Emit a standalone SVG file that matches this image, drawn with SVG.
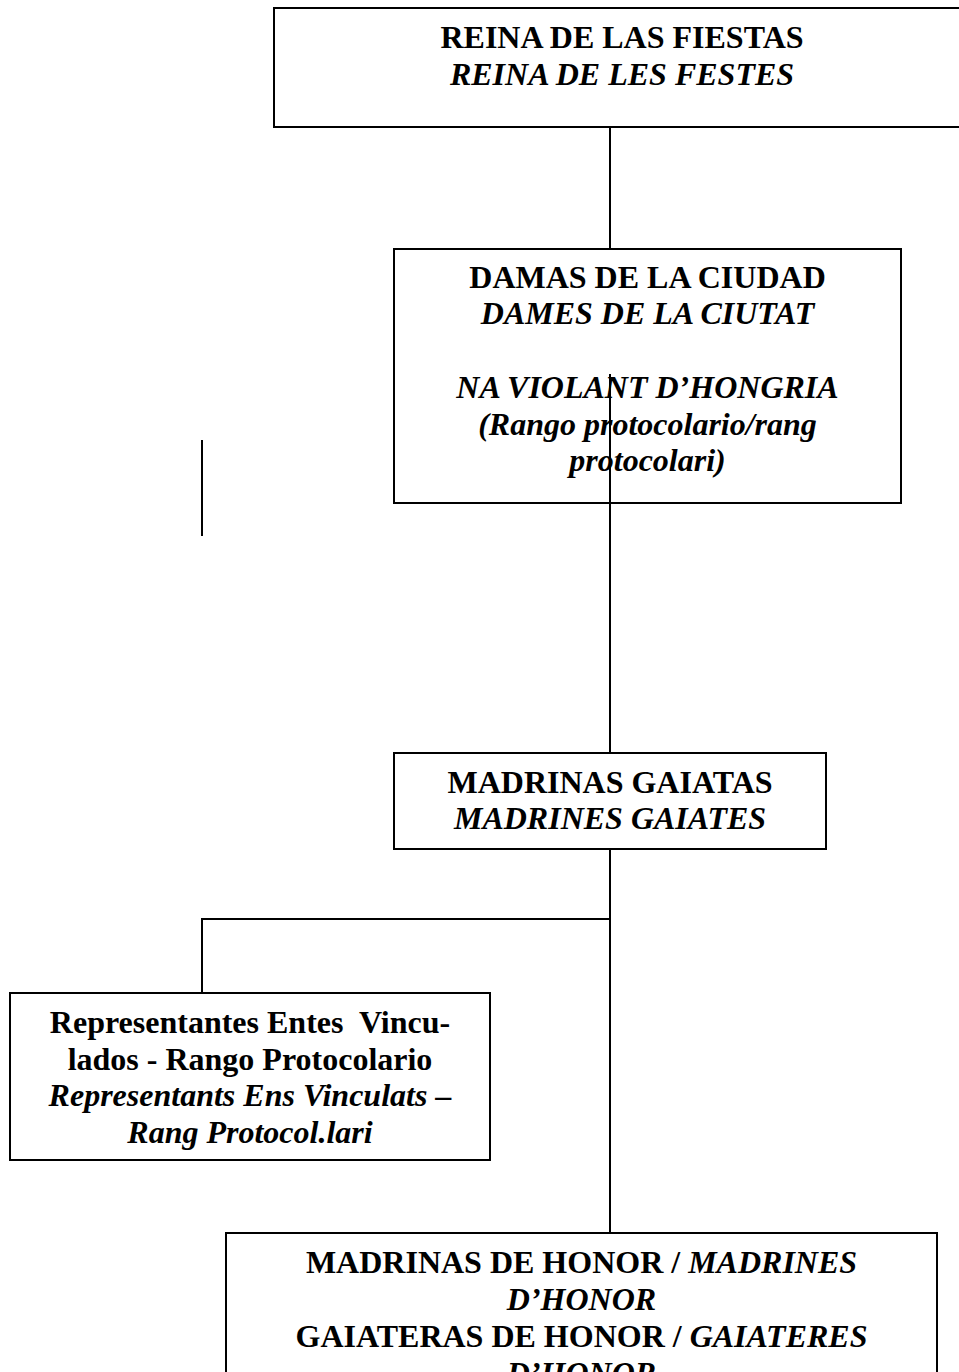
<svg xmlns="http://www.w3.org/2000/svg" width="959" height="1372" viewBox="0 0 959 1372">
<style>
.box{fill:#fff;stroke:#000;stroke-width:2}
.ln{stroke:#000;stroke-width:2;fill:none}
text{font-family:"Liberation Serif","Times New Roman",serif;font-size:32px;font-weight:bold;fill:#000;text-anchor:middle}
.i{font-style:italic}
</style>
<rect width="959" height="1372" fill="#fff"/>
<g id="n-reina">
<rect class="box" x="274" y="8" width="700" height="119"/>
<text x="622" y="48">REINA DE LAS FIESTAS</text>
<text x="622" y="85" class="i">REINA DE LES FESTES</text>
</g>
<g id="n-damas">
<rect class="box" x="394" y="249" width="507" height="254"/>
<text x="647.5" y="288">DAMAS DE LA CIUDAD</text>
<text x="647.5" y="324" class="i">DAMES DE LA CIUTAT</text>
<text x="647.5" y="398" class="i">NA VIOLANT D’HONGRIA</text>
<text x="647.5" y="435" class="i">(Rango protocolario/rang</text>
<text x="647.5" y="471" class="i">protocolari)</text>
</g>
<g id="n-madrinas-gaiatas">
<rect class="box" x="394" y="753" width="432" height="96"/>
<text x="610" y="793">MADRINAS GAIATAS</text>
<text x="610" y="829" class="i">MADRINES GAIATES</text>
</g>
<g id="n-representantes">
<rect class="box" x="10" y="993" width="480" height="167"/>
<text x="250" y="1033" xml:space="preserve">Representantes Entes  Vincu-</text>
<text x="250" y="1070">lados - Rango Protocolario</text>
<text x="250" y="1106" class="i">Representants Ens Vinculats –</text>
<text x="250" y="1143" class="i">Rang Protocol.lari</text>
</g>
<g id="n-honor">
<rect class="box" x="226" y="1233" width="711" height="160"/>
<text x="581.5" y="1273">MADRINAS DE HONOR / <tspan class="i">MADRINES</tspan></text>
<text x="581.5" y="1310" class="i">D’HONOR</text>
<text x="581.5" y="1347">GAIATERAS DE HONOR / <tspan class="i">GAIATERES</tspan></text>
<text x="581.5" y="1384" class="i">D’HONOR</text>
</g>
<g id="connectors">
<line class="ln" x1="610" y1="127" x2="610" y2="249"/>
<line class="ln" x1="610" y1="374" x2="610" y2="753"/>
<line class="ln" x1="202" y1="440" x2="202" y2="536"/>
<line class="ln" x1="610" y1="849" x2="610" y2="1233"/>
<line class="ln" x1="202" y1="919" x2="610" y2="919"/>
<line class="ln" x1="202" y1="918" x2="202" y2="993"/>
</g>
</svg>
